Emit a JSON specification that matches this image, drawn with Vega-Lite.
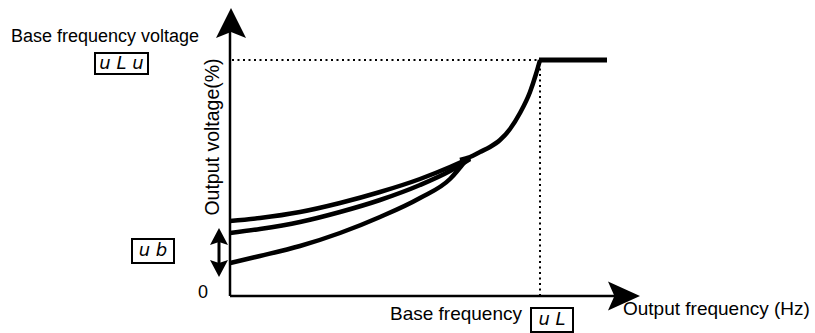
{
  "$schema": "https://vega.github.io/schema/vega-lite/v6.json",
  "width": 410,
  "height": 286,
  "autosize": "none",
  "padding": {"left": 230, "top": 10, "right": 175, "bottom": 37},
  "background": "white",
  "config": {"view": {"stroke": null}},
  "datasets": {
    "curves": [
      {"f": 0, "v": 75, "boost": "high"}, {"f": 30, "v": 78, "boost": "high"}, {"f": 70, "v": 84, "boost": "high"},
      {"f": 110, "v": 93, "boost": "high"}, {"f": 150, "v": 104, "boost": "high"}, {"f": 190, "v": 117, "boost": "high"},
      {"f": 220, "v": 129, "boost": "high"}, {"f": 240, "v": 138, "boost": "high"},
      {"f": 0, "v": 63, "boost": "mid"}, {"f": 30, "v": 67, "boost": "mid"}, {"f": 70, "v": 74, "boost": "mid"},
      {"f": 110, "v": 84, "boost": "mid"}, {"f": 150, "v": 96, "boost": "mid"}, {"f": 190, "v": 111, "boost": "mid"},
      {"f": 220, "v": 125, "boost": "mid"}, {"f": 240, "v": 137, "boost": "mid"},
      {"f": 0, "v": 33, "boost": "low"}, {"f": 30, "v": 40, "boost": "low"}, {"f": 70, "v": 50, "boost": "low"},
      {"f": 110, "v": 63, "boost": "low"}, {"f": 150, "v": 79, "boost": "low"}, {"f": 190, "v": 98, "boost": "low"},
      {"f": 220, "v": 117, "boost": "low"}, {"f": 236, "v": 136, "boost": "low"},
      {"f": 230, "v": 136, "boost": "rise"}, {"f": 240, "v": 139, "boost": "rise"}, {"f": 250, "v": 144, "boost": "rise"},
      {"f": 260, "v": 149, "boost": "rise"}, {"f": 270, "v": 156, "boost": "rise"}, {"f": 280, "v": 167, "boost": "rise"},
      {"f": 290, "v": 183, "boost": "rise"}, {"f": 300, "v": 204, "boost": "rise"}, {"f": 306, "v": 222, "boost": "rise"},
      {"f": 310, "v": 236, "boost": "rise"}
    ],
    "flat": [{"f": 309, "v": 236, "f2": 377}],
    "guides": [
      {"f": 2, "v": 236, "f2": 310, "v2": 236},
      {"f": 310, "v": 0, "f2": 310, "v2": 236}
    ],
    "axes": [
      {"f": 0, "v": 0, "f2": 0, "v2": 264},
      {"f": 0, "v": 0, "f2": 386, "v2": 0}
    ],
    "heads": [
      {"f": 1, "v": 273, "dir": "up"},
      {"f": 394, "v": 0, "dir": "right"}
    ],
    "boostRange": [{"f": -11, "v": 24, "f2": -11, "v2": 64}],
    "boostHeads": [
      {"f": -11, "v": 59, "dir": "up"},
      {"f": -11, "v": 28, "dir": "down"}
    ],
    "labels": [
      {"f": -31, "v": 254, "text": "Base frequency voltage", "align": "right", "size": 18},
      {"f": -27, "v": -2, "text": "0", "align": "center", "size": 18},
      {"f": 292, "v": -24, "text": "Base frequency", "align": "right", "size": 19},
      {"f": 393, "v": -19, "text": "Output frequency (Hz)", "align": "left", "size": 19}
    ],
    "boxes": [
      {"f": -135, "f2": -82, "v": 243, "v2": 222},
      {"f": -98, "f2": -56, "v": 57, "v2": 33},
      {"f": 301, "f2": 343, "v": -12, "v2": -36}
    ],
    "codes": [
      {"f": -108.5, "v": 232.5, "code": "u L u"},
      {"f": -77, "v": 45, "code": "u b"},
      {"f": 322, "v": -24, "code": "u L"}
    ]
  },
  "encoding": {
    "x": {"field": "f", "type": "quantitative", "scale": {"domain": [0, 410], "nice": false, "zero": false}, "axis": null},
    "y": {"field": "v", "type": "quantitative", "scale": {"domain": [0, 286], "nice": false, "zero": false}, "axis": null}
  },
  "layer": [
    {
      "data": {"name": "guides"},
      "mark": {"type": "rule", "color": "black", "strokeWidth": 2, "strokeDash": [2, 3.5]},
      "encoding": {"x2": {"field": "f2"}, "y2": {"field": "v2"}}
    },
    {
      "data": {"name": "axes"},
      "mark": {"type": "rule", "color": "black", "strokeWidth": 2.5},
      "encoding": {"x2": {"field": "f2"}, "y2": {"field": "v2"}}
    },
    {
      "data": {"name": "heads"},
      "transform": [{"filter": "datum.dir === 'up'"}],
      "mark": {"type": "point", "shape": "M0,-1 L1,1 L0,0.6 L-1,1 Z", "size": 900, "filled": true, "color": "black", "opacity": 1}
    },
    {
      "data": {"name": "heads"},
      "transform": [{"filter": "datum.dir === 'right'"}],
      "mark": {"type": "point", "shape": "M1,0 L-1,-0.9 L-0.6,0 L-1,0.9 Z", "size": 1024, "filled": true, "color": "black", "opacity": 1}
    },
    {
      "data": {"name": "boostRange"},
      "mark": {"type": "rule", "color": "black", "strokeWidth": 3},
      "encoding": {"x2": {"field": "f2"}, "y2": {"field": "v2"}}
    },
    {
      "data": {"name": "boostHeads"},
      "transform": [{"filter": "datum.dir === 'up'"}],
      "mark": {"type": "point", "shape": "M0,-1 L1,0.9 L0,0.55 L-1,0.9 Z", "size": 324, "filled": true, "color": "black", "opacity": 1}
    },
    {
      "data": {"name": "boostHeads"},
      "transform": [{"filter": "datum.dir === 'down'"}],
      "mark": {"type": "point", "shape": "M0,1 L1,-0.9 L0,-0.55 L-1,-0.9 Z", "size": 324, "filled": true, "color": "black", "opacity": 1}
    },
    {
      "data": {"name": "curves"},
      "mark": {"type": "line", "color": "black", "strokeWidth": 4.5, "interpolate": "monotone", "strokeCap": "butt"},
      "encoding": {"detail": {"field": "boost"}, "order": {"field": "f", "type": "quantitative"}}
    },
    {
      "data": {"name": "flat"},
      "mark": {"type": "rule", "color": "black", "strokeWidth": 5},
      "encoding": {"x2": {"field": "f2"}}
    },
    {
      "data": {"name": "boxes"},
      "mark": {"type": "rect", "fill": null, "stroke": "black", "strokeWidth": 2},
      "encoding": {"x2": {"field": "f2"}, "y2": {"field": "v2"}}
    },
    {
      "data": {"name": "codes"},
      "mark": {"type": "text", "font": "DejaVu Sans", "fontSize": 18, "fontStyle": "italic", "baseline": "middle", "align": "center", "color": "black"},
      "encoding": {"text": {"field": "code"}}
    },
    {
      "data": {"name": "labels"},
      "transform": [{"filter": "datum.align === 'right'"}],
      "mark": {"type": "text", "font": "Liberation Sans", "baseline": "alphabetic", "align": "right", "color": "black"},
      "encoding": {"text": {"field": "text"}, "size": {"field": "size", "type": "quantitative", "scale": null}}
    },
    {
      "data": {"name": "labels"},
      "transform": [{"filter": "datum.align === 'center'"}],
      "mark": {"type": "text", "font": "Liberation Sans", "baseline": "alphabetic", "align": "center", "color": "black"},
      "encoding": {"text": {"field": "text"}, "size": {"field": "size", "type": "quantitative", "scale": null}}
    },
    {
      "data": {"name": "labels"},
      "transform": [{"filter": "datum.align === 'left'"}],
      "mark": {"type": "text", "font": "Liberation Sans", "baseline": "alphabetic", "align": "left", "color": "black"},
      "encoding": {"text": {"field": "text"}, "size": {"field": "size", "type": "quantitative", "scale": null}}
    },
    {
      "data": {"values": [{"f": -17, "v": 159, "text": "Output voltage(%)"}]},
      "mark": {"type": "text", "font": "Liberation Sans", "fontSize": 19.5, "angle": 270, "baseline": "middle", "align": "center", "color": "black"},
      "encoding": {"text": {"field": "text"}}
    }
  ]
}
